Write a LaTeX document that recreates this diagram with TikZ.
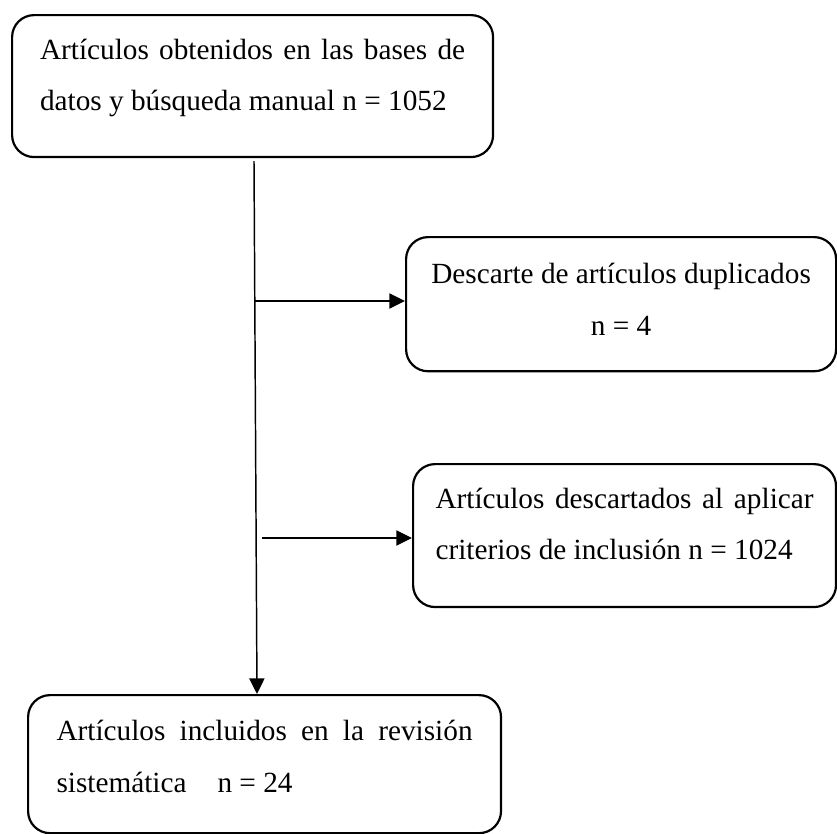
\documentclass[tikz,border=0pt]{standalone}
\usepackage{fontspec}
\setmainfont{Liberation Serif}
\usepackage{tikz}
\usetikzlibrary{calc}
\usetikzlibrary{arrows.meta}
\hyphenpenalty=10000
\tolerance=9999
\hbadness=10000

\begin{document}
\begin{tikzpicture}[x=0.41pt, y=-0.41pt]
    \tikzset{box/.style = {draw, line width=0.9pt, rounded corners=9pt, anchor=north west, inner ysep=0pt, text height=18pt, font=\fontsize{12pt}{21.3pt}\selectfont}}
    \tikzset{flow/.style = {line width=0.6pt, -{Triangle[length=6.4pt, width=6.2pt]}}}

    \useasboundingbox (0,0) rectangle (837,833);

    \node[box, align=justify, text width=174.3pt, inner xsep=11.45pt, text depth=40.2pt] (obtenidos) at (11,14) {Artículos obtenidos en las bases de datos y búsqueda manual n = 1052};
    \node[box, align=flush center, text width=172pt, inner xsep=2.15pt, text height=18.9pt, text depth=36.1pt] (duplicados) at (405,236) {Descarte de artículos duplicados\\ n = 4};
    \node[box, align=justify, text width=155pt, inner xsep=9.2pt, text depth=40.6pt] (criterios) at (412,463) {Artículos descartados al aplicar criterios de inclusión n = 1024};
    \node[box, align=justify, text width=170.6pt, inner xsep=11.65pt, text height=18.5pt, text depth=38.1pt] (incluidos) at (27,694) {Artículos incluidos en la revisión sistemática\hspace*{12.7pt}n = 24};

    % arrows
    \coordinate (vtop) at (254,161);
    \coordinate (a1) at (255,301);
    \coordinate (a2) at (262,538);
    \draw[flow] (vtop) -- ($ (vtop |- incluidos.north) + (3,0) $);
    \draw[flow] (a1) -- (a1 -| duplicados.west);
    \draw[flow] (a2) -- (a2 -| criterios.west);

\end{tikzpicture}
\end{document}
